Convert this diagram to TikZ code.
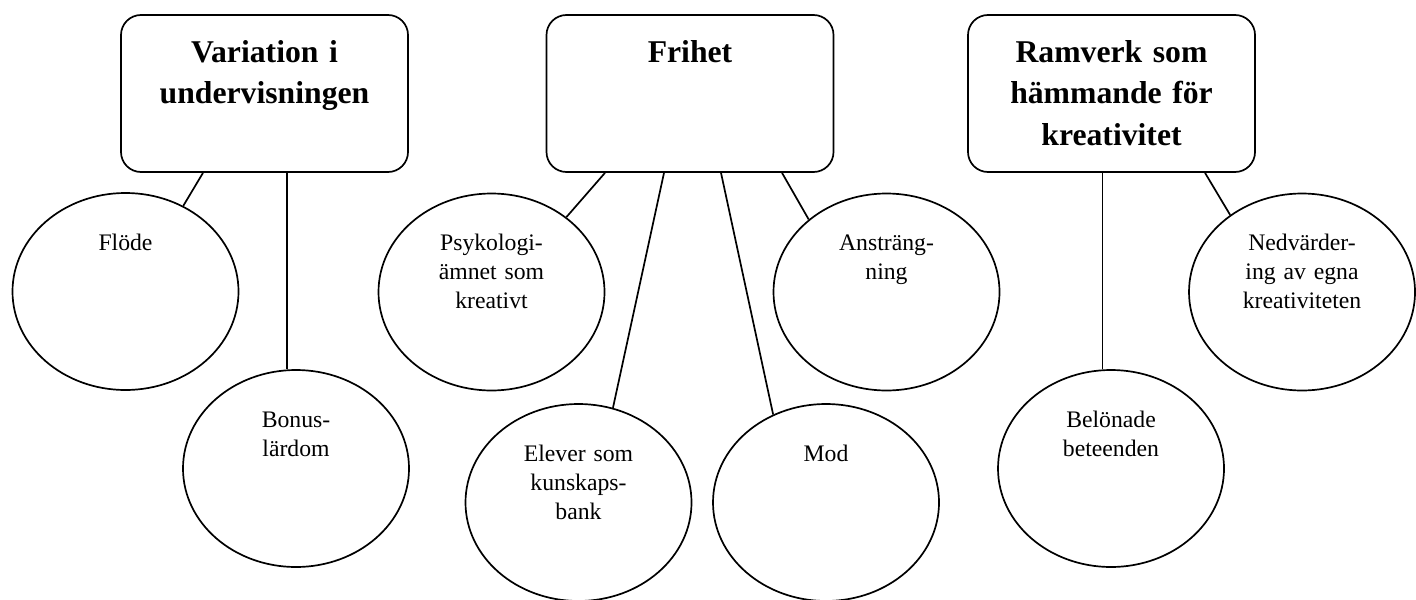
\documentclass[tikz,border=0pt]{standalone}
\usepackage{fontspec}
\setmainfont{Liberation Serif}
\usetikzlibrary{shapes.geometric}
\begin{document}
\begin{tikzpicture}[x=0.5pt,y=-0.5pt,
		theme/.style={draw,line width=0.85pt,rounded corners=10pt,minimum width=143.5pt,minimum height=78.5pt,inner sep=0pt},
		sub/.style={draw,line width=0.85pt,ellipse,minimum width=113pt,minimum height=98.5pt,inner sep=0pt},
		themetext/.style={anchor=base,align=center,text width=135pt,inner sep=0pt,font=\fontsize{15.85}{20.75}\selectfont\bfseries},
		subtext/.style={anchor=base,align=center,text width=105pt,inner sep=0pt,font=\fontsize{11.85}{14.5}\selectfont},
		link/.style={line width=0.85pt}]
		\useasboundingbox (0,0) rectangle (1416,599);
		\node[theme] (vari) at (264.5,93.5) {};
		\node[theme] (frihet) at (690,93.5) {};
		\node[theme] (ramverk) at (1111.5,93.5) {};
		\node[themetext] (varitext) at ([yshift=-24pt]vari.north) {Variation i\\undervisningen};
		\node[themetext] (frihettext) at ([yshift=-24pt]frihet.north) {Frihet};
		\node[themetext] (ramverktext) at ([yshift=-24pt]ramverk.north) {Ramverk som\\hämmande för\\kreativitet};
		\node[sub] (flode) at (125.5,291.5) {};
		\node[sub] (bonus) at (296,468.5) {};
		\node[sub] (psyk) at (491.5,292) {};
		\node[sub] (elever) at (578.5,502.5) {};
		\node[sub] (mod) at (826,502.5) {};
		\node[sub] (anstr) at (886.5,292) {};
		\node[sub] (belon) at (1111,468.5) {};
		\node[sub] (nedv) at (1302,292) {};
		\node[subtext] (flodetext) at ([yshift=-29pt]flode.north) {Flöde};
		\node[subtext] (bonustext) at ([yshift=-29pt]bonus.north) {Bonus-\\lärdom};
		\node[subtext] (psyktext) at ([yshift=-29pt]psyk.north) {Psykologi-\\ämnet som\\kreativt};
		\node[subtext] (elevertext) at ([yshift=-29pt]elever.north) {Elever som\\kunskaps-\\bank};
		\node[subtext] (modtext) at ([yshift=-29pt]mod.north) {Mod};
		\node[subtext] (anstrtext) at ([yshift=-29pt]anstr.north) {Ansträng-\\ning};
		\node[subtext] (belontext) at ([yshift=-29pt]belon.north) {Belönade\\beteenden};
		\node[subtext] (nedvtext) at ([yshift=-29pt]nedv.north) {Nedvärder-\\ing av egna\\kreativiteten};
		\draw[link] ([xshift=-30.75pt]vari.south) -- (flode.56);
		\draw[link] (vari.south -| bonus.95) -- (bonus.95);
		\draw[link] ([xshift=-42.5pt]frihet.south) -- (psyk.45);
		\draw[link] ([xshift=-13pt]frihet.south) -- (elever.70);
		\draw[link] ([xshift=15.5pt]frihet.south) -- (mod.121);
		\draw[link] ([xshift=46pt]frihet.south) -- (anstr.137);
		\draw[link] (ramverk.south -| belon.95) -- (belon.95);
		\draw[link] ([xshift=46.75pt]ramverk.south) -- (nedv.133);
	\end{tikzpicture}
\end{document}
